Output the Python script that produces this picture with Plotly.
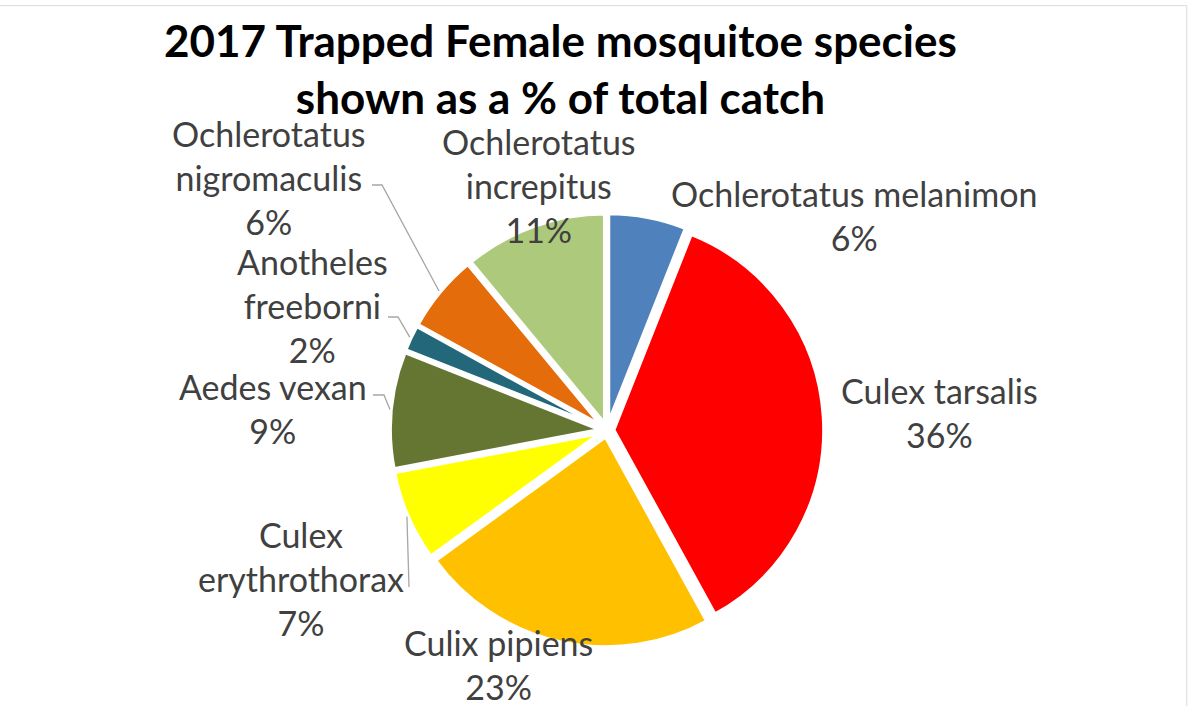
import math
import plotly.graph_objects as go

species = [
    "Ochlerotatus melanimon",
    "Culex tarsalis",
    "Culix pipiens",
    "Culex erythrothorax",
    "Aedes vexan",
    "Anotheles freeborni",
    "Ochlerotatus nigromaculis",
    "Ochlerotatus increpitus",
]
label_text = [
    "Ochlerotatus melanimon",
    "Culex tarsalis",
    "Culix pipiens",
    "Culex<br>erythrothorax",
    "Aedes vexan",
    "Anotheles<br>freeborni",
    "Ochlerotatus<br>nigromaculis",
    "Ochlerotatus<br>increpitus",
]
percent = [6, 36, 23, 7, 9, 2, 6, 11]
colors = ["#4F81BD", "#FF0000", "#FFC000", "#FFFF00", "#647632", "#23687A", "#E46C0A", "#ADC97B"]

title_lines = ["2017 Trapped Female mosquitoe species", "shown as a % of total catch"]

# ---- layout (pixels in the 1188x706 canvas) ----
W, H = 1188, 706
label_pos = [(854, 215), (940, 413), (498, 664), (301, 578),
             (273, 408), (312, 305), (269, 177), (539, 185)]
# leader line label-side points (start, elbow) or None
leader_pts = [None, None, None, [(409, 587)],
              [(373, 395), (384, 395)], [(388, 317), (398, 317)],
              [(372, 185), (382, 185)], None]
pie_center = (607, 430)
leader_r = 218

dom_x = [0.325, 0.697]
dom_y = [0.083, 0.698]


def px(x, y):
    return x / W, 1 - y / H


fig = go.Figure(go.Pie(
    labels=species,
    values=percent,
    textinfo="none",
    sort=False,
    direction="clockwise",
    rotation=0,
    pull=[0.03] * len(percent),
    marker=dict(colors=colors, line=dict(color="white", width=4)),
    showlegend=False,
    hoverinfo="label+percent",
    domain=dict(x=dom_x, y=dom_y),
))

annotations = []
shapes = []
total = sum(percent)
cum = 0
for name, p, (lx, ly), lp in zip(label_text, percent, label_pos, leader_pts):
    mid = (cum + p / 2) / total * 2 * math.pi
    cum += p
    fx, fy = px(lx, ly)
    annotations.append(dict(
        text=f"{name}<br>{p}%", xref="paper", yref="paper", x=fx, y=fy,
        xanchor="center", yanchor="middle", showarrow=False,
        font=dict(family="Lato", size=34, color="#404040"),
    ))
    if lp:
        ex = pie_center[0] + leader_r * math.sin(mid)
        ey = pie_center[1] - leader_r * math.cos(mid)
        pts = [px(*q) for q in lp] + [px(ex, ey)]
        path = "M " + " L ".join(f"{a},{b}" for a, b in pts)
        shapes.append(dict(type="path", xref="paper", yref="paper", path=path,
                           line=dict(color="#A6A6A6", width=1.3)))

tx, ty = px(560, 12)
annotations.append(dict(
    text="<br>".join(title_lines), xref="paper", yref="paper",
    x=tx, y=ty, xanchor="center", yanchor="top", showarrow=False,
    font=dict(family="Lato", size=44, color="black", weight="bold"),
))

shapes += [
    dict(type="line", xref="paper", yref="paper", x0=0, x1=0.999, y0=0.992, y1=0.992,
         line=dict(color="#D9D9D9", width=1)),
    dict(type="line", xref="paper", yref="paper", x0=0.999, x1=0.999, y0=0, y1=0.992,
         line=dict(color="#D9D9D9", width=1)),
]

fig.update_layout(
    width=W, height=H,
    margin=dict(l=0, r=0, t=0, b=0),
    paper_bgcolor="white",
    annotations=annotations,
    shapes=shapes,
)

fig.write_html("out.html")
